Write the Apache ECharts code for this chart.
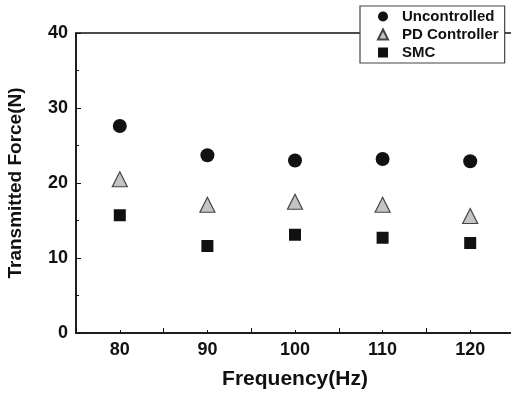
<!DOCTYPE html>
<html>
<head>
<meta charset="utf-8">
<script src="https://cdn.jsdelivr.net/npm/echarts@6/dist/echarts.min.js"></script>
<style>
  html, body { margin: 0; padding: 0; background: #fff; }
  #chart { width: 511px; height: 393px; }
</style>
</head>
<body>
<div id="chart"></div>
<script>
// values
const frequency = [80, 90, 100, 110, 120];
const uncontrolled = [27.6, 23.7, 23.0, 23.2, 22.9];
const pdController = [20.5, 17.1, 17.5, 17.1, 15.6];
const smc = [15.7, 11.6, 13.1, 12.7, 12.0];

const pairs = (ys) => frequency.map((x, i) => [x, ys[i]]);
const font = "Arial, 'Liberation Sans', sans-serif";

let myChart = echarts.init(document.getElementById("chart"));
myChart.setOption({
  animation: false,
  grid: {
    left: 76,
    width: 438,
    top: 33,
    height: 300,
    outerBoundsMode: "none",
    show: true,
    borderColor: "#111",
    borderWidth: 1.5,
  },
  legend: {
    orient: "vertical",
    left: 360,
    top: 6,
    width: 142,
    padding: [3, 6, 3, 17],
    itemGap: 3,
    itemWidth: 10,
    itemHeight: 10,
    backgroundColor: "#fff",
    borderColor: "#444",
    borderWidth: 1.2,
    textStyle: { fontFamily: font, fontWeight: "bold", fontSize: 15, color: "#111", padding: [0, 0, 0, 9] },
    data: ["Uncontrolled", "PD Controller", "SMC"],
  },
  xAxis: {
    type: "value",
    min: 75,
    max: 125,
    interval: 10,
    name: "Frequency(Hz)",
    nameLocation: "middle",
    nameGap: 36,
    nameTextStyle: { fontFamily: font, fontWeight: "bold", fontSize: 21, color: "#111" },
    axisLine: { show: true, lineStyle: { color: "#111", width: 1.5 } },
    axisTick: { show: true, inside: true, length: 5, lineStyle: { color: "#111" } },
    minorTick: { show: true, splitNumber: 2, length: 3, lineStyle: { color: "#111" } },
    axisLabel: {
      fontFamily: font, fontWeight: "bold", fontSize: 18, color: "#111", margin: 8,
      customValues: [80, 90, 100, 110, 120],
    },
    splitLine: { show: false },
  },
  yAxis: {
    type: "value",
    min: 0,
    max: 40,
    interval: 10,
    name: "Transmitted Force(N)",
    nameLocation: "middle",
    nameGap: 51,
    nameTextStyle: { fontFamily: font, fontWeight: "bold", fontSize: 19, color: "#111" },
    axisLine: { show: true, lineStyle: { color: "#111", width: 1.5 } },
    axisTick: { show: true, inside: true, length: 5, lineStyle: { color: "#111" } },
    minorTick: { show: true, splitNumber: 2, length: 3, lineStyle: { color: "#111" } },
    axisLabel: { fontFamily: font, fontWeight: "bold", fontSize: 18, color: "#111", margin: 8 },
    splitLine: { show: false },
  },
  series: [
    {
      name: "Uncontrolled",
      type: "scatter",
      symbol: "circle",
      symbolSize: 14,
      itemStyle: { color: "#111", opacity: 1 },
      data: pairs(uncontrolled),
    },
    {
      name: "PD Controller",
      type: "scatter",
      symbol: "triangle",
      symbolSize: 15,
      itemStyle: { color: "#c4c4c4", borderColor: "#444", borderWidth: 1.2, opacity: 1 },
      data: pairs(pdController),
    },
    {
      name: "SMC",
      type: "scatter",
      symbol: "rect",
      symbolSize: 12,
      itemStyle: { color: "#111", opacity: 1 },
      data: pairs(smc),
    },
  ],
});
</script>
</body>
</html>
